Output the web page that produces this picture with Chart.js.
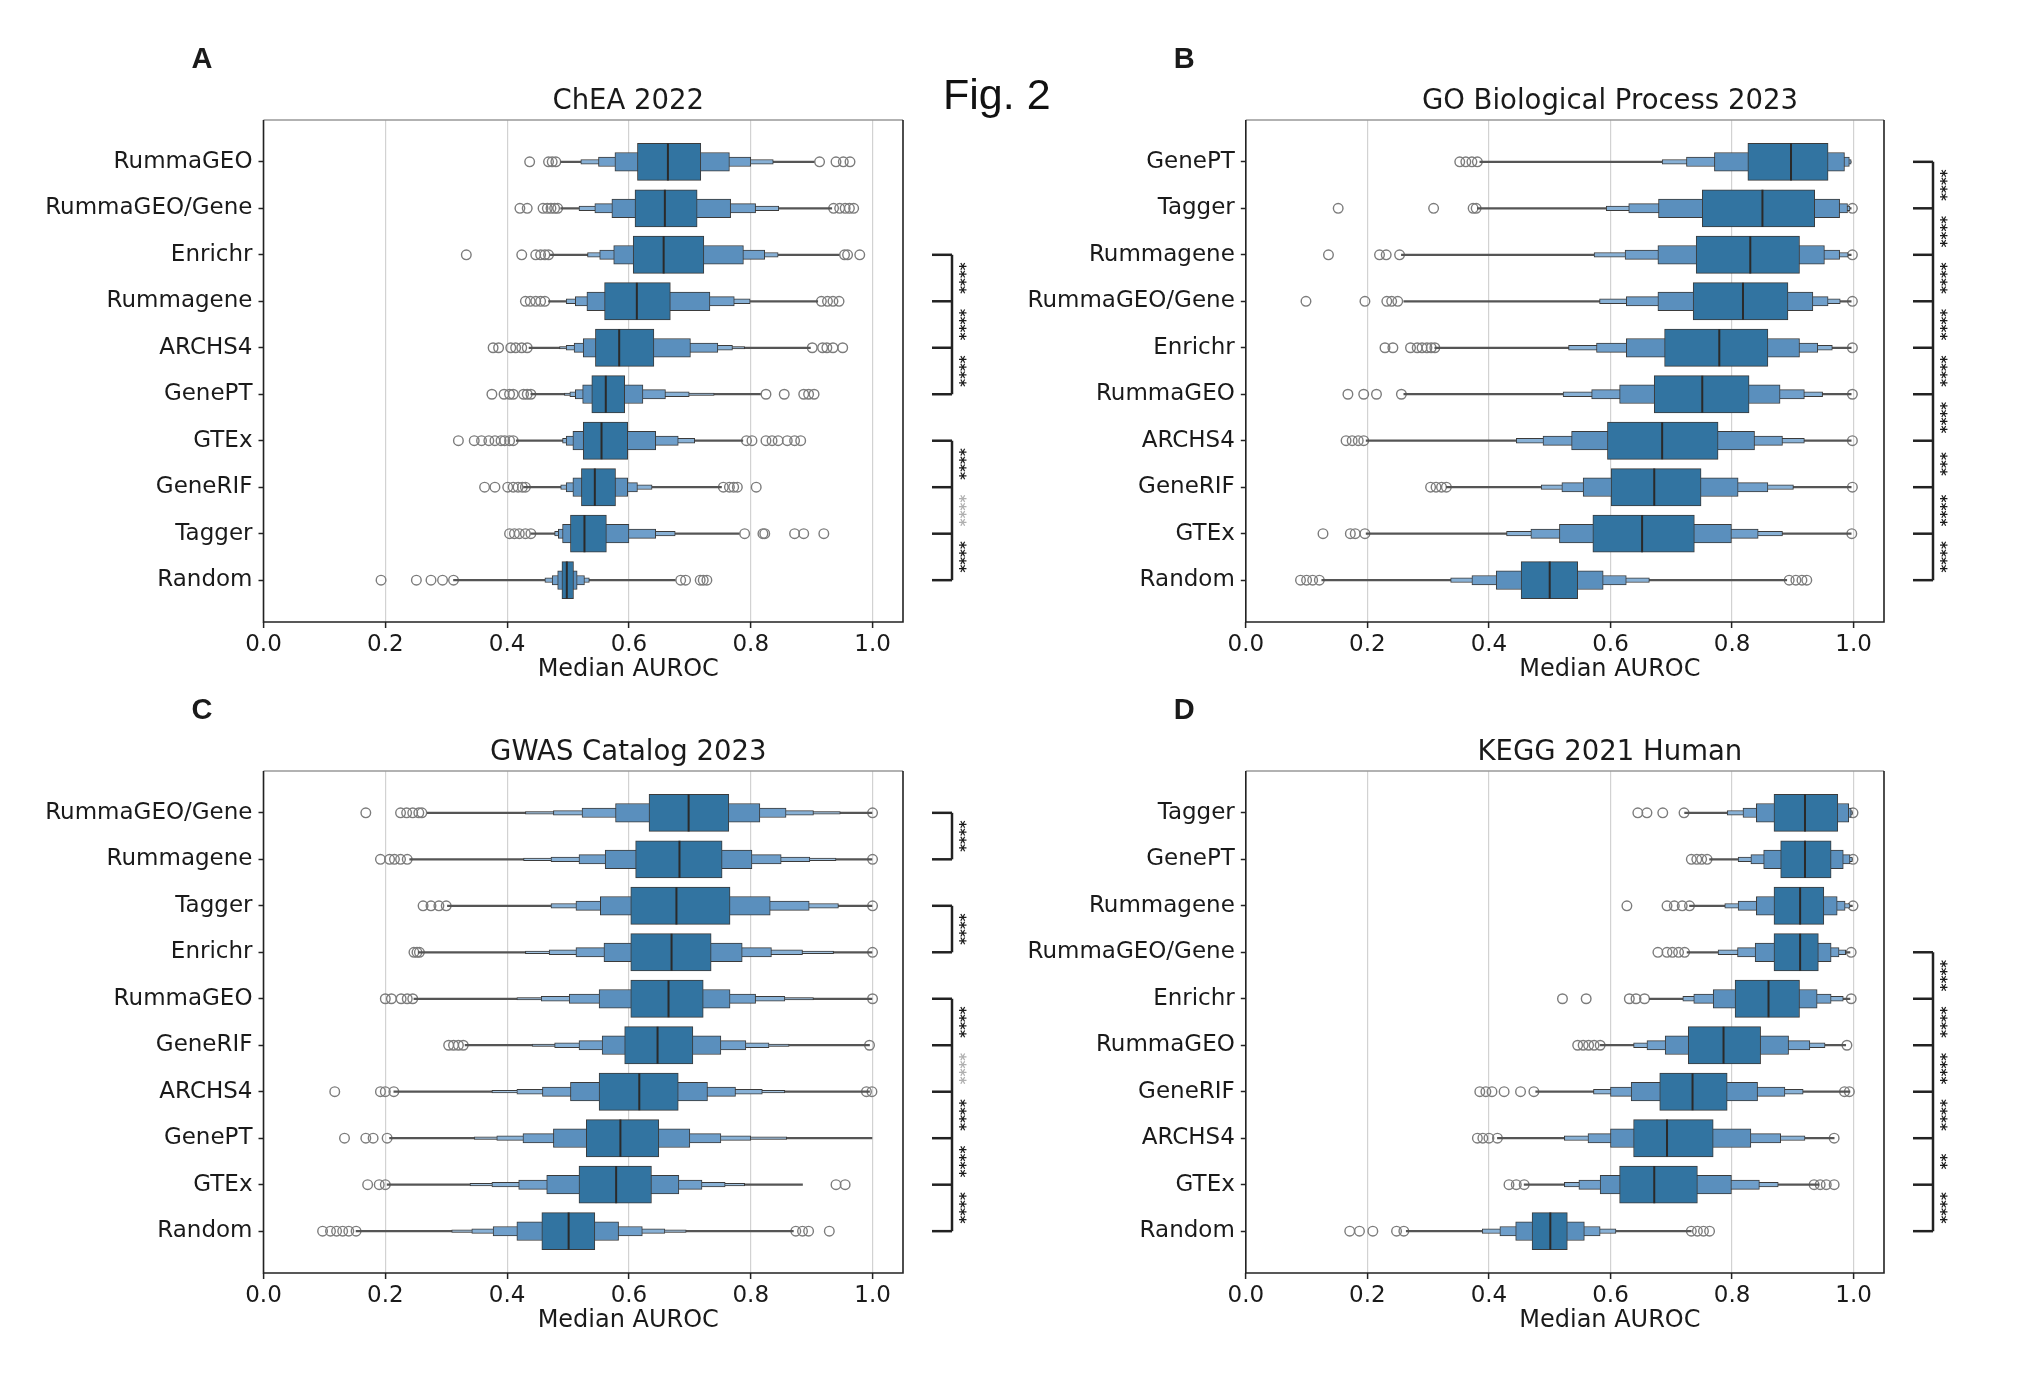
<!DOCTYPE html>
<html>
<head>
<meta charset="utf-8">
<script src="https://cdn.jsdelivr.net/npm/chart.js@4"></script>
<style>
  body { margin: 0; background: #fff; width: 2040px; height: 1382px; position: relative; overflow: hidden; }
  canvas { position: absolute; }
  #figLabel { position: absolute; left: 943px; top: 73px; font: 43px "Liberation Sans", Arial, sans-serif; line-height: 1; color: #111; z-index: 5; }
</style>
</head>
<body>
<div id="figLabel">Fig. 2</div>
<canvas id="cA" width="1020" height="700" style="left:0;top:0"></canvas>
<canvas id="cB" width="1020" height="700" style="left:1020px;top:0"></canvas>
<canvas id="cC" width="1020" height="700" style="left:0;top:651px"></canvas>
<canvas id="cD" width="1020" height="700" style="left:1020px;top:651px"></canvas>
<script>
// Boxen (letter-value) plots of median AUROC, one panel per library

const xTicks = [0, 0.2, 0.4, 0.6, 0.8, 1.0];

// ---- A: ChEA 2022
const cheaCats = ['RummaGEO', 'RummaGEO/Gene', 'Enrichr', 'Rummagene', 'ARCHS4', 'GenePT', 'GTEx', 'GeneRIF', 'Tagger', 'Random'];
const cheaMed = [0.664, 0.659, 0.657, 0.613, 0.584, 0.562, 0.555, 0.544, 0.527, 0.498];
// letter-value boxes, innermost first: [low, high]
const cheaBoxes = [
  [[0.614, 0.718], [0.577, 0.765], [0.550, 0.800], [0.521, 0.837]],
  [[0.610, 0.712], [0.572, 0.767], [0.544, 0.808], [0.518, 0.846]],
  [[0.607, 0.723], [0.575, 0.788], [0.552, 0.823], [0.532, 0.845]],
  [[0.560, 0.668], [0.531, 0.733], [0.512, 0.773], [0.497, 0.799]],
  [[0.545, 0.641], [0.525, 0.701], [0.510, 0.746], [0.497, 0.770], [0.486, 0.790]],
  [[0.539, 0.593], [0.524, 0.623], [0.512, 0.660], [0.503, 0.699], [0.494, 0.740]],
  [[0.525, 0.598], [0.508, 0.644], [0.497, 0.681], [0.491, 0.708]],
  [[0.522, 0.578], [0.508, 0.598], [0.497, 0.614], [0.488, 0.638]],
  [[0.504, 0.563], [0.491, 0.600], [0.484, 0.644], [0.478, 0.676]],
  [[0.490, 0.509], [0.483, 0.515], [0.474, 0.527], [0.462, 0.535]]
];
const cheaRange = [[0.488, 0.904], [0.488, 0.933], [0.471, 0.945], [0.468, 0.910], [0.436, 0.898],
  [0.439, 0.816], [0.415, 0.787], [0.427, 0.752], [0.439, 0.781], [0.312, 0.676]];
const cheaOut = [
  [0.437, 0.468, 0.474, 0.48, 0.913, 0.94, 0.952, 0.963],
  [0.421, 0.433, 0.459, 0.466, 0.472, 0.478, 0.483, 0.936, 0.946, 0.955, 0.962, 0.969],
  [0.333, 0.424, 0.447, 0.455, 0.462, 0.468, 0.954, 0.959, 0.979],
  [0.43, 0.438, 0.447, 0.455, 0.462, 0.916, 0.926, 0.935, 0.945],
  [0.377, 0.386, 0.406, 0.414, 0.424, 0.433, 0.901, 0.918, 0.925, 0.935, 0.951],
  [0.375, 0.395, 0.404, 0.41, 0.427, 0.433, 0.439, 0.825, 0.855, 0.887, 0.895, 0.904],
  [0.32, 0.346, 0.358, 0.37, 0.38, 0.39, 0.396, 0.404, 0.41, 0.793, 0.802, 0.825, 0.835, 0.845, 0.86, 0.872, 0.882],
  [0.363, 0.38, 0.401, 0.41, 0.418, 0.425, 0.43, 0.755, 0.765, 0.772, 0.778, 0.809],
  [0.404, 0.412, 0.42, 0.43, 0.439, 0.79, 0.82, 0.823, 0.872, 0.887, 0.92],
  [0.193, 0.251, 0.275, 0.294, 0.312, 0.685, 0.693, 0.717, 0.722, 0.728]
];
const cheaSig = [
  { from: 2, to: 5, marks: ['****', '****', '****'], faint: [] },
  { from: 6, to: 9, marks: ['****', '****', '****'], faint: [1] }
];

// ---- B: GO Biological Process 2023
const goCats = ['GenePT', 'Tagger', 'Rummagene', 'RummaGEO/Gene', 'Enrichr', 'RummaGEO', 'ARCHS4', 'GeneRIF', 'GTEx', 'Random'];
const goMed = [0.897, 0.850, 0.830, 0.818, 0.779, 0.751, 0.685, 0.672, 0.652, 0.500];
const goBoxes = [
  [[0.826, 0.958], [0.771, 0.985], [0.725, 0.993], [0.685, 0.996]],
  [[0.751, 0.936], [0.679, 0.977], [0.630, 0.990], [0.593, 0.994]],
  [[0.741, 0.911], [0.678, 0.952], [0.624, 0.977], [0.573, 0.991]],
  [[0.736, 0.892], [0.678, 0.933], [0.626, 0.958], [0.582, 0.978]],
  [[0.689, 0.859], [0.626, 0.911], [0.577, 0.941], [0.531, 0.965]],
  [[0.672, 0.828], [0.615, 0.879], [0.569, 0.919], [0.522, 0.949]],
  [[0.595, 0.777], [0.536, 0.837], [0.489, 0.883], [0.445, 0.919]],
  [[0.601, 0.749], [0.555, 0.810], [0.520, 0.859], [0.486, 0.901]],
  [[0.571, 0.738], [0.516, 0.799], [0.469, 0.843], [0.429, 0.883]],
  [[0.453, 0.546], [0.412, 0.588], [0.372, 0.626], [0.337, 0.664]]
];
const goRange = [[0.385, 0.996], [0.381, 0.996], [0.256, 0.996], [0.26, 0.996], [0.311, 0.996],
  [0.26, 0.996], [0.198, 0.996], [0.33, 0.996], [0.198, 0.996], [0.125, 0.890]];
const goOut = [
  [0.352, 0.362, 0.372, 0.381],
  [0.152, 0.309, 0.374, 0.379, 0.998],
  [0.136, 0.22, 0.231, 0.253, 0.998],
  [0.099, 0.196, 0.232, 0.24, 0.25, 0.998],
  [0.229, 0.242, 0.271, 0.282, 0.29, 0.298, 0.305, 0.311, 0.998],
  [0.168, 0.194, 0.215, 0.256, 0.998],
  [0.165, 0.175, 0.185, 0.194, 0.998],
  [0.304, 0.313, 0.322, 0.33, 0.998],
  [0.127, 0.172, 0.18, 0.196, 0.997],
  [0.09, 0.1, 0.11, 0.121, 0.894, 0.905, 0.915, 0.923]
];
const goSig = [
  { from: 0, to: 9, marks: ['****', '****', '****', '****', '****', '****', '***', '****', '****'], faint: [] }
];

// ---- C: GWAS Catalog 2023
const gwasCats = ['RummaGEO/Gene', 'Rummagene', 'Tagger', 'Enrichr', 'RummaGEO', 'GeneRIF', 'ARCHS4', 'GenePT', 'GTEx', 'Random'];
const gwasMed = [0.698, 0.683, 0.678, 0.670, 0.665, 0.647, 0.617, 0.586, 0.579, 0.501];
const gwasBoxes = [
  [[0.633, 0.764], [0.578, 0.815], [0.523, 0.858], [0.476, 0.903], [0.430, 0.947]],
  [[0.611, 0.753], [0.561, 0.802], [0.518, 0.850], [0.472, 0.897], [0.427, 0.940]],
  [[0.603, 0.766], [0.553, 0.832], [0.513, 0.896], [0.472, 0.944]],
  [[0.603, 0.735], [0.559, 0.786], [0.513, 0.834], [0.469, 0.885], [0.430, 0.936]],
  [[0.603, 0.722], [0.551, 0.766], [0.502, 0.808], [0.456, 0.856], [0.416, 0.903]],
  [[0.593, 0.705], [0.556, 0.751], [0.518, 0.792], [0.478, 0.830], [0.441, 0.863]],
  [[0.551, 0.681], [0.504, 0.729], [0.458, 0.775], [0.416, 0.819], [0.375, 0.856]],
  [[0.530, 0.649], [0.476, 0.700], [0.426, 0.751], [0.383, 0.800], [0.346, 0.859]],
  [[0.518, 0.637], [0.465, 0.682], [0.419, 0.720], [0.375, 0.758], [0.339, 0.790]],
  [[0.457, 0.544], [0.416, 0.583], [0.377, 0.622], [0.342, 0.659], [0.309, 0.694]]
];
const gwasRange = [[0.269, 0.999], [0.240, 0.999], [0.302, 0.999], [0.254, 0.999], [0.247, 0.999],
  [0.331, 0.995], [0.214, 0.995], [0.207, 0.999], [0.203, 0.885], [0.152, 0.870]];
const gwasOut = [
  [0.168, 0.225, 0.235, 0.245, 0.255, 0.26, 1.0],
  [0.192, 0.207, 0.215, 0.225, 0.236, 1.0],
  [0.262, 0.275, 0.288, 0.3, 1.0],
  [0.247, 0.252, 0.256, 1.0],
  [0.2, 0.21, 0.226, 0.236, 0.245, 1.0],
  [0.304, 0.312, 0.32, 0.328, 0.995],
  [0.117, 0.192, 0.2, 0.214, 0.99, 0.999],
  [0.133, 0.168, 0.18, 0.203],
  [0.171, 0.19, 0.2, 0.94, 0.955],
  [0.097, 0.11, 0.12, 0.13, 0.14, 0.152, 0.874, 0.885, 0.895, 0.929]
];
const gwasSig = [
  { from: 0, to: 1, marks: ['****'], faint: [] },
  { from: 2, to: 3, marks: ['****'], faint: [] },
  { from: 4, to: 9, marks: ['****', '****', '****', '****', '****'], faint: [1] }
];

// ---- D: KEGG 2021 Human
const keggCats = ['Tagger', 'GenePT', 'Rummagene', 'RummaGEO/Gene', 'Enrichr', 'RummaGEO', 'GeneRIF', 'ARCHS4', 'GTEx', 'Random'];
const keggMed = [0.920, 0.920, 0.912, 0.912, 0.860, 0.786, 0.735, 0.693, 0.672, 0.501];
const keggBoxes = [
  [[0.869, 0.974], [0.840, 0.992], [0.818, 0.996], [0.792, 0.998]],
  [[0.880, 0.963], [0.852, 0.983], [0.831, 0.994], [0.810, 0.998]],
  [[0.869, 0.951], [0.840, 0.973], [0.810, 0.986], [0.788, 0.994]],
  [[0.869, 0.942], [0.838, 0.963], [0.809, 0.976], [0.777, 0.987]],
  [[0.805, 0.911], [0.769, 0.940], [0.737, 0.963], [0.719, 0.983]],
  [[0.728, 0.847], [0.690, 0.893], [0.660, 0.928], [0.638, 0.953]],
  [[0.681, 0.792], [0.634, 0.842], [0.600, 0.887], [0.572, 0.917]],
  [[0.638, 0.769], [0.600, 0.831], [0.563, 0.880], [0.524, 0.920]],
  [[0.615, 0.743], [0.583, 0.799], [0.548, 0.845], [0.524, 0.876]],
  [[0.471, 0.529], [0.444, 0.557], [0.418, 0.583], [0.389, 0.609]]
];
const keggRange = [[0.722, 0.998], [0.763, 0.998], [0.730, 0.998], [0.726, 0.994], [0.664, 0.994],
  [0.583, 0.987], [0.477, 0.994], [0.414, 0.968], [0.458, 0.943], [0.264, 0.733]];
const keggOut = [
  [0.645, 0.66, 0.686, 0.721, 0.999],
  [0.733, 0.742, 0.75, 0.759, 0.999],
  [0.627, 0.693, 0.705, 0.718, 0.73, 0.999],
  [0.678, 0.693, 0.702, 0.712, 0.722, 0.996],
  [0.521, 0.56, 0.631, 0.642, 0.656, 0.996],
  [0.546, 0.555, 0.564, 0.573, 0.583, 0.989],
  [0.385, 0.395, 0.405, 0.425, 0.452, 0.474, 0.985, 0.993],
  [0.381, 0.39, 0.4, 0.414, 0.968],
  [0.433, 0.445, 0.458, 0.935, 0.945, 0.955, 0.968],
  [0.171, 0.187, 0.209, 0.248, 0.26, 0.733, 0.743, 0.753, 0.763]
];
const keggSig = [
  { from: 3, to: 9, marks: ['****', '****', '****', '****', '**', '****'], faint: [] }
];

const levelColors = ['#3274a1', '#5a8fbd', '#6f9fcb', '#88b1d6', '#a3c3e0'];
const FONT = 'DejaVu Sans';
Chart.defaults.font.family = FONT;
Chart.defaults.color = '#1a1a1a';

// plot-area geometry in each 1020x700 canvas
const PLOT_TOP = 120, PLOT_BOTTOM = 622, CANVAS_H = 700;
const rowUnit = (PLOT_BOTTOM - PLOT_TOP) / 10.8;
const boxH = [0.8, 0.4, 0.2, 0.1, 0.055].map(f => f * rowUnit);

function panelPlugin(title, letter, sig) {
  return {
    id: 'panelDeco' + letter,
    afterDraw(chart) {
      const ctx = chart.ctx;
      const ca = chart.chartArea;
      const ys = chart.scales.y;
      ctx.save();
      // frame
      ctx.lineWidth = 1.6;
      ctx.strokeStyle = '#999';
      ctx.beginPath(); ctx.moveTo(ca.left, ca.top); ctx.lineTo(ca.right, ca.top); ctx.stroke();
      ctx.strokeStyle = '#222';
      ctx.beginPath();
      ctx.moveTo(ca.left, ca.top); ctx.lineTo(ca.left, ca.bottom);
      ctx.lineTo(ca.right, ca.bottom); ctx.lineTo(ca.right, ca.top);
      ctx.stroke();
      // title and axis label
      const cx = ca.left + ca.width / 2 + 45;
      ctx.fillStyle = '#1a1a1a';
      ctx.textAlign = 'center';
      ctx.textBaseline = 'middle';
      ctx.font = '27.5px "' + FONT + '"';
      ctx.fillText(title, cx, ca.top - 18);
      ctx.font = '24px "' + FONT + '"';
      ctx.fillText('Median AUROC', cx, ca.bottom + 48);
      // panel letter
      ctx.textAlign = 'left';
      ctx.font = 'bold 29px "Liberation Sans"';
      ctx.fillText(letter, ca.left - 72, ca.top - 60);
      // significance brackets
      const x0 = ca.right + 29, x1 = ca.right + 49, xs = ca.right + 64;
      sig.forEach(g => {
        ctx.strokeStyle = '#222';
        ctx.lineWidth = 2.5;
        ctx.beginPath();
        ctx.moveTo(x1, ys.getPixelForValue(g.from));
        ctx.lineTo(x1, ys.getPixelForValue(g.to));
        ctx.stroke();
        for (let r = g.from; r <= g.to; r++) {
          const y = ys.getPixelForValue(r);
          ctx.beginPath(); ctx.moveTo(x0, y); ctx.lineTo(x1, y); ctx.stroke();
        }
        g.marks.forEach((m, j) => {
          const ym = ys.getPixelForValue(g.from + j + 0.5);
          ctx.save();
          ctx.translate(xs, ym);
          ctx.rotate(-Math.PI / 2);
          ctx.textAlign = 'center';
          ctx.textBaseline = 'middle';
          ctx.font = 'bold 15px "' + FONT + '"';
          ctx.fillStyle = g.faint.includes(j) ? '#b0b0b0' : '#1a1a1a';
          ctx.fillText(m, 0, 0);
          ctx.restore();
        });
      });
      ctx.restore();
    }
  };
}

function makePanel(id, title, letter, cats, med, boxes, range, outl, sig, yAxisW, padRight) {
  const datasets = [];
  datasets.push({
    type: 'scatter',
    data: med.map((m, i) => ({ x: m, y: i })),
    pointStyle: 'line', rotation: 90, radius: boxH[0] / 2,
    borderColor: '#2a2a2a', borderWidth: 2, order: 0
  });
  const nLev = Math.max(...boxes.map(b => b.length));
  for (let k = 0; k < nLev; k++) {
    datasets.push({
      type: 'bar', indexAxis: 'y',
      data: boxes.map((b, i) => (b[k] ? { x: b[k], y: i } : null)).filter(d => d),
      barThickness: boxH[k],
      backgroundColor: levelColors[k],
      borderColor: '#3b3b3b', borderWidth: 1, borderSkipped: false,
      grouped: false, order: k + 1
    });
  }
  datasets.push({
    type: 'bar', indexAxis: 'y',
    data: range.map((r, i) => ({ x: r, y: i })),
    barThickness: 1.6, backgroundColor: '#555', borderWidth: 0,
    grouped: false, order: 10
  });
  const pts = [];
  outl.forEach((arr, i) => arr.forEach(v => pts.push({ x: v, y: i })));
  datasets.push({
    type: 'scatter', data: pts,
    pointStyle: 'circle', radius: 4.8,
    borderColor: '#7c7c7c', backgroundColor: 'rgba(255,255,255,0)', borderWidth: 1.4,
    order: 11
  });

  new Chart(document.getElementById(id), {
    type: 'bar',
    data: { datasets },
    options: {
      indexAxis: 'y',
      responsive: false,
      animation: false,
      devicePixelRatio: 1,
      layout: { padding: { top: PLOT_TOP, right: padRight, bottom: 0, left: 0 } },
      plugins: { legend: { display: false }, tooltip: { enabled: false } },
      scales: {
        x: {
          type: 'linear', min: 0, max: 1.05,
          afterBuildTicks: s => { s.ticks = xTicks.map(v => ({ value: v })); },
          afterFit: s => { s.height = CANVAS_H - PLOT_BOTTOM; },
          ticks: { callback: v => v.toFixed(1), font: { size: 23 }, color: '#1a1a1a', padding: 3 },
          grid: { color: '#d2d2d2', lineWidth: 1.2, tickLength: 6, tickColor: '#222', tickWidth: 1.5 },
          border: { display: false }
        },
        y: {
          type: 'linear', min: -0.9, max: 9.9, reverse: true, offset: false,
          afterBuildTicks: s => { s.ticks = cats.map((c, i) => ({ value: i })); },
          afterFit: s => { s.width = yAxisW; },
          ticks: { callback: v => cats[v], autoSkip: false, font: { size: 23 }, color: '#1a1a1a', padding: 6 },
          grid: { drawOnChartArea: false, offset: false, tickLength: 5, tickColor: '#222', tickWidth: 1.5 },
          border: { display: false }
        }
      }
    },
    plugins: [panelPlugin(title, letter, sig)]
  });
}

makePanel('cA', 'ChEA 2022', 'A', cheaCats, cheaMed, cheaBoxes, cheaRange, cheaOut, cheaSig, 263.5, 117);
makePanel('cB', 'GO Biological Process 2023', 'B', goCats, goMed, goBoxes, goRange, goOut, goSig, 225.8, 156);
makePanel('cC', 'GWAS Catalog 2023', 'C', gwasCats, gwasMed, gwasBoxes, gwasRange, gwasOut, gwasSig, 263.5, 117);
makePanel('cD', 'KEGG 2021 Human', 'D', keggCats, keggMed, keggBoxes, keggRange, keggOut, keggSig, 225.8, 156);
</script>
</body>
</html>
